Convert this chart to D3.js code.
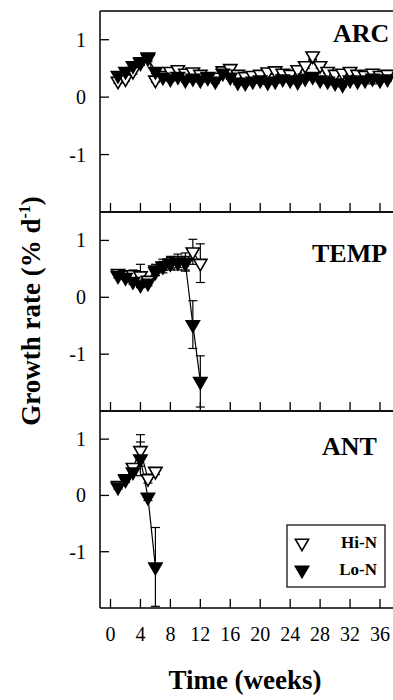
<!DOCTYPE html>
<html>
<head>
<meta charset="utf-8">
<script src="https://cdn.jsdelivr.net/npm/d3@7"></script>
<style>
  body { margin: 0; background: #fff; }
  svg { display: block; font-family: "Liberation Serif", "DejaVu Serif", "Times New Roman", serif; }
</style>
</head>
<body>
<div id="growth_graph"></div>
<script>
// panel names
var panels = ["ARC", "TEMP", "ANT"];

// ARC (weeks 1-37)
var arc_weeks = [1,2,3,4,5,6,7,8,9,10,11,12,13,14,15,16,17,18,19,20,21,22,23,24,25,26,27,28,29,30,31,32,33,34,35,36,37];
var arc_hi = [0.28,0.32,0.45,0.6,0.7,0.3,0.38,0.45,0.48,0.42,0.44,0.4,0.36,0.35,0.46,0.5,0.4,0.36,0.38,0.4,0.44,0.46,0.42,0.4,0.48,0.55,0.72,0.55,0.45,0.4,0.42,0.45,0.4,0.38,0.42,0.38,0.4];
var arc_lo = [0.38,0.45,0.55,0.62,0.68,0.45,0.35,0.32,0.36,0.3,0.33,0.3,0.34,0.28,0.42,0.35,0.26,0.25,0.28,0.3,0.26,0.28,0.32,0.3,0.27,0.33,0.36,0.3,0.28,0.25,0.22,0.3,0.28,0.3,0.33,0.3,0.32];
var arc_hi_err = [0.04,0.04,0.05,0.05,0.06,0.04,0.04,0.05,0.05,0.04,0.04,0.04,0.04,0.04,0.05,0.05,0.04,0.04,0.04,0.04,0.04,0.05,0.04,0.04,0.05,0.05,0.06,0.05,0.04,0.04,0.04,0.05,0.04,0.04,0.04,0.04,0.04];
var arc_lo_err = [0.04,0.04,0.05,0.05,0.06,0.04,0.04,0.04,0.04,0.04,0.04,0.04,0.04,0.04,0.05,0.04,0.04,0.04,0.04,0.04,0.04,0.04,0.04,0.04,0.04,0.04,0.04,0.04,0.04,0.04,0.04,0.04,0.04,0.04,0.1,0.04,0.04];

// TEMP (weeks 1-12)
var temp_weeks = [1,2,3,4,5,6,7,8,9,10,11,12];
var temp_hi = [0.42,0.4,0.4,0.38,0.3,0.48,0.55,0.6,0.62,0.62,0.8,0.6];
var temp_lo = [0.38,0.35,0.28,0.22,0.25,0.45,0.55,0.6,0.62,0.6,-0.48,-1.48];
var temp_hi_err = [0.04,0.05,0.08,0.2,0.05,0.1,0.12,0.12,0.14,0.16,0.22,0.34];
var temp_lo_err = [0.04,0.04,0.05,0.05,0.05,0.06,0.08,0.1,0.1,0.12,0.42,0.45];

// ANT (weeks 1-6)
var ant_weeks = [1,2,3,4,5,6];
var ant_hi = [0.18,0.3,0.5,0.8,0.3,0.43];
var ant_lo = [0.15,0.28,0.42,0.65,-0.03,-1.27];
var ant_hi_err = [0.04,0.05,0.06,0.28,0.08,0.06];
var ant_lo_err = [0.04,0.05,0.06,0.3,0.06,0.7];

var x_ticks = [0,4,8,12,16,20,24,28,32,36];
var y_ticks = [-1,0,1];
var legend_labels = ["Hi-N", "Lo-N"];

var panel_data = [
  { name: panels[0], weeks: arc_weeks, hi: arc_hi, lo: arc_lo, hi_err: arc_hi_err, lo_err: arc_lo_err },
  { name: panels[1], weeks: temp_weeks, hi: temp_hi, lo: temp_lo, hi_err: temp_hi_err, lo_err: temp_lo_err },
  { name: panels[2], weeks: ant_weeks, hi: ant_hi, lo: ant_lo, hi_err: ant_hi_err, lo_err: ant_lo_err }
];

var width = 393, height = 700;
var axis_left = 100, axis_right = 393;
var panel_tops = [11, 212, 411];
var panel_bottoms = [212, 411, 608];
var label_pos = [{ x: 333, y: 42 }, { x: 312, y: 262 }, { x: 322, y: 455 }];
var tick_len = 9;

var svg = d3.select("#growth_graph")
  .append("svg")
  .attr("width", width)
  .attr("height", height);

var xScale = d3.scaleLinear().domain([0, 36]).range([110.5, 380]);
var triangle = d3.symbol().type(d3.symbolTriangle).size(76);

function draw_panel(p, i) {
  var yScale = d3.scaleLinear().domain([-2, 1.5]).range([panel_bottoms[i], panel_tops[i]]);
  var g = svg.append("g").attr("class", "panel");

  // frame: top, left, bottom
  g.append("line")
    .attr("x1", axis_left).attr("x2", axis_right)
    .attr("y1", panel_tops[i]).attr("y2", panel_tops[i])
    .attr("stroke", "#000").attr("stroke-width", 1.5);
  g.append("line")
    .attr("x1", axis_left).attr("x2", axis_left)
    .attr("y1", panel_tops[i]).attr("y2", panel_bottoms[i])
    .attr("stroke", "#000").attr("stroke-width", 1.5);
  g.append("line")
    .attr("x1", axis_left).attr("x2", axis_right)
    .attr("y1", panel_bottoms[i]).attr("y2", panel_bottoms[i])
    .attr("stroke", "#000").attr("stroke-width", 1.5);

  // x ticks, inward
  g.selectAll("line.xtick")
    .data(x_ticks)
    .enter()
    .append("line")
    .attr("class", "xtick")
    .attr("x1", function (d) { return xScale(d); })
    .attr("x2", function (d) { return xScale(d); })
    .attr("y1", panel_bottoms[i])
    .attr("y2", panel_bottoms[i] - tick_len)
    .attr("stroke", "#000").attr("stroke-width", 1.3);

  // y ticks, inward
  g.selectAll("line.ytick")
    .data(y_ticks)
    .enter()
    .append("line")
    .attr("class", "ytick")
    .attr("x1", axis_left)
    .attr("x2", axis_left + tick_len)
    .attr("y1", function (d) { return yScale(d); })
    .attr("y2", function (d) { return yScale(d); })
    .attr("stroke", "#000").attr("stroke-width", 1.3);

  g.selectAll("text.ylab")
    .data(y_ticks)
    .enter()
    .append("text")
    .attr("class", "ylab")
    .attr("x", 86)
    .attr("y", function (d) { return yScale(d); })
    .attr("dy", "0.35em")
    .attr("text-anchor", "end")
    .attr("font-size", 20)
    .text(function (d) { return d; });

  g.append("text")
    .attr("x", label_pos[i].x)
    .attr("y", label_pos[i].y)
    .attr("font-size", 26)
    .attr("font-weight", "bold")
    .text(p.name);

  var series = [
    { vals: p.hi, err: p.hi_err, fill: "#fff" },
    { vals: p.lo, err: p.lo_err, fill: "#000" }
  ];

  var line = d3.line()
    .x(function (d) { return xScale(d[0]); })
    .y(function (d) { return yScale(d[1]); });

  series.forEach(function (s) {
    var pts = p.weeks.map(function (w, k) { return [w, s.vals[k], s.err[k]]; });
    g.append("path")
      .datum(pts)
      .attr("d", line)
      .attr("fill", "none")
      .attr("stroke", "#000")
      .attr("stroke-width", 1.2);

    var eb = g.selectAll(null).data(pts).enter().append("g");
    eb.append("line")
      .attr("x1", function (d) { return xScale(d[0]); })
      .attr("x2", function (d) { return xScale(d[0]); })
      .attr("y1", function (d) { return yScale(d[1] - d[2]); })
      .attr("y2", function (d) { return yScale(d[1] + d[2]); })
      .attr("stroke", "#000").attr("stroke-width", 1.2);
    [1, -1].forEach(function (sign) {
      eb.append("line")
        .attr("x1", function (d) { return xScale(d[0]) - 4.5; })
        .attr("x2", function (d) { return xScale(d[0]) + 4.5; })
        .attr("y1", function (d) { return yScale(d[1] + sign * d[2]); })
        .attr("y2", function (d) { return yScale(d[1] + sign * d[2]); })
        .attr("stroke", "#000").attr("stroke-width", 1.2);
    });
  });

  series.forEach(function (s) {
    g.selectAll(null)
      .data(p.weeks.map(function (w, k) { return [w, s.vals[k]]; }))
      .enter()
      .append("path")
      .attr("d", triangle)
      .attr("transform", function (d) {
        return `translate(${xScale(d[0])},${yScale(d[1])}) rotate(180)`;
      })
      .attr("fill", s.fill)
      .attr("stroke", "#000")
      .attr("stroke-width", 1.6);
  });
}

panel_data.forEach(draw_panel);

// x tick labels under last panel
svg.selectAll("text.xlab")
  .data(x_ticks)
  .enter()
  .append("text")
  .attr("class", "xlab")
  .attr("x", function (d) { return xScale(d); })
  .attr("y", 641)
  .attr("text-anchor", "middle")
  .attr("font-size", 20)
  .text(function (d) { return d; });

// axis titles
svg.append("text")
  .attr("x", 245)
  .attr("y", 689)
  .attr("text-anchor", "middle")
  .attr("font-size", 27)
  .attr("font-weight", "bold")
  .text("Time (weeks)");

var ytitle = svg.append("text")
  .attr("transform", "translate(40,311) rotate(-90)")
  .attr("text-anchor", "middle")
  .attr("font-size", 27)
  .attr("font-weight", "bold");
ytitle.append("tspan").text("Growth rate (% d");
ytitle.append("tspan").attr("font-size", 16).attr("dy", -10).text("-1");
ytitle.append("tspan").attr("dy", 10).text(")");

// legend
var legend = svg.append("g");
legend.append("rect")
  .attr("x", 287).attr("y", 525)
  .attr("width", 98).attr("height", 62)
  .attr("fill", "#fff")
  .attr("stroke", "#000").attr("stroke-width", 1.2);
legend.selectAll(null)
  .data(legend_labels)
  .enter()
  .append("path")
  .attr("d", triangle)
  .attr("transform", function (d, k) { return `translate(302,${543 + k * 27}) rotate(180)`; })
  .attr("fill", function (d, k) { return k === 0 ? "#fff" : "#000"; })
  .attr("stroke", "#000")
  .attr("stroke-width", 1.6);
legend.selectAll(null)
  .data(legend_labels)
  .enter()
  .append("text")
  .attr("x", 377)
  .attr("y", function (d, k) { return 548 + k * 27; })
  .attr("text-anchor", "end")
  .attr("font-size", 17)
  .attr("font-weight", "bold")
  .text(function (d) { return d; });
</script>
</body>
</html>
